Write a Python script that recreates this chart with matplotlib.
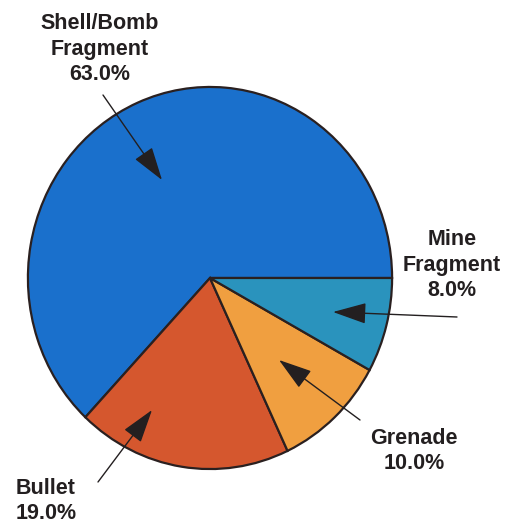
import matplotlib
matplotlib.use("Agg")
import matplotlib.pyplot as plt
from matplotlib.patches import FancyArrowPatch

labels = ["Shell/Bomb\nFragment\n63.0%", "Bullet\n19.0%", "Grenade\n10.0%", "Mine\nFragment\n8.0%"]
values = [63.0, 19.0, 10.0, 8.0]
colors = ["#1a70cc", "#d5572e", "#f09f40", "#2a93bd"]

W, H = 514, 526
fig = plt.figure(figsize=(W / 100, H / 100), dpi=100)
fig.patch.set_facecolor("white")

# pie axes (slightly taller than wide, as in the reference)
left, right, top, bottom = 27, 393, 86, 470
axp = fig.add_axes([left / W, 1 - bottom / H, (right - left) / W, (bottom - top) / H])
axp.pie(values, colors=colors, startangle=0, counterclock=True,
        wedgeprops=dict(edgecolor="#2a2020", linewidth=1.6))
axp.set_aspect("auto")
axp.set_xlim(-1.005, 1.005)
axp.set_ylim(-1.005, 1.005)
axp.axis("off")

# overlay axes in pixel coordinates
ax = fig.add_axes([0, 0, 1, 1])
ax.set_xlim(0, W)
ax.set_ylim(H, 0)
ax.axis("off")
ax.patch.set_alpha(0)

fs = 15.5
font = dict(fontsize=fs, fontweight="bold", family=["Liberation Sans", "DejaVu Sans"],
            color="#231f20", linespacing=1.28)
ax.text(100, 49, labels[0], ha="center", va="center", **font)
ax.text(452, 265, labels[3], ha="center", va="center", **font)
ax.text(414, 451, labels[2], ha="center", va="center", **font)
ax.text(16, 501, labels[1], ha="left", va="center", **font)

arrows = [((103, 95), (162, 180)),
          ((457, 317), (333, 312)),
          ((360, 420), (279, 360)),
          ((98, 482), (152, 410))]
for (x0, y0), (x1, y1) in arrows:
    ax.add_patch(FancyArrowPatch((x0, y0), (x1, y1), arrowstyle="-|>,head_length=1.05,head_width=0.33",
                                 mutation_scale=20, color="#231f20", linewidth=1.0,
                                 shrinkA=0, shrinkB=0))

fig.savefig("out.png", dpi=100, facecolor="white")
